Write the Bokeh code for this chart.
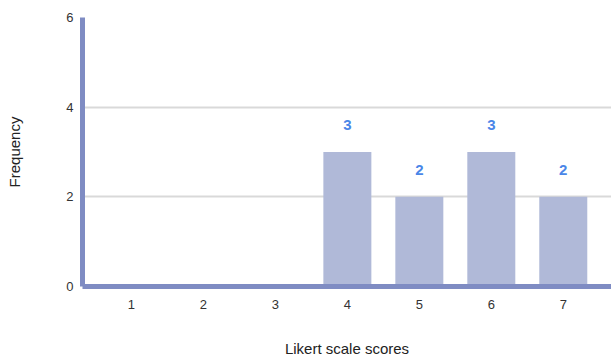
from bokeh.plotting import figure
from bokeh.models import Range1d, ColumnDataSource, FixedTicker
from bokeh.core.properties import value
from bokeh.embed import file_html
from bokeh.resources import INLINE

scores = [1, 2, 3, 4, 5, 6, 7]
freq = [0, 0, 0, 3, 2, 3, 2]
y_ticks = [0, 2, 4, 6]

BAR = "#b0b9d8"
AXIS = "#7f8cc3"
LBL = "#4a86e8"
FONT = "Liberation Sans"

p = figure(width=611, height=359, output_backend="svg", toolbar_location=None,
           x_range=Range1d(0.32, 7.67), y_range=Range1d(0, 6),
           min_border_left=82, min_border_right=0, min_border_top=17, min_border_bottom=70)
p.outline_line_color = None
p.background_fill_color = "white"

src = ColumnDataSource(dict(x=scores, top=freq))
p.vbar(x="x", top="top", width=0.667, source=src, fill_color=BAR, line_color=None)

lx = [s for s, f in zip(scores, freq) if f > 0]
ly = [f for f in freq if f > 0]
lt = [str(f) for f in ly]
p.text(x=lx, y=ly, text=lt, text_align="center", text_baseline="middle", y_offset=-27,
       text_color=LBL, text_font=value(FONT), text_font_size="15px", text_font_style="bold")

p.xaxis.ticker = FixedTicker(ticks=scores)
p.yaxis.ticker = FixedTicker(ticks=y_ticks)
for ax in (p.xaxis[0], p.yaxis[0]):
    ax.axis_line_color = AXIS
    ax.axis_line_width = 5
    ax.major_tick_line_color = None
    ax.minor_tick_line_color = None
    ax.major_label_text_font = FONT
    ax.major_label_text_font_size = "13px"
    ax.major_label_text_color = "#333333"
    ax.axis_label_text_font = FONT
    ax.axis_label_text_font_size = "15px"
    ax.axis_label_text_font_style = "normal"
    ax.axis_label_text_color = "#222222"

p.xaxis.axis_label = "Likert scale scores"
p.yaxis.axis_label = "Frequency"
p.xaxis.major_label_standoff = 7
p.xaxis.axis_label_standoff = 28
p.yaxis.major_label_standoff = 3
p.yaxis.axis_label_standoff = 40

p.xgrid.grid_line_color = None
p.ygrid.ticker = FixedTicker(ticks=y_ticks)
p.ygrid.grid_line_color = "#d9d9d9"
p.ygrid.grid_line_width = 2

open("out.html", "w").write(file_html(p, INLINE))
